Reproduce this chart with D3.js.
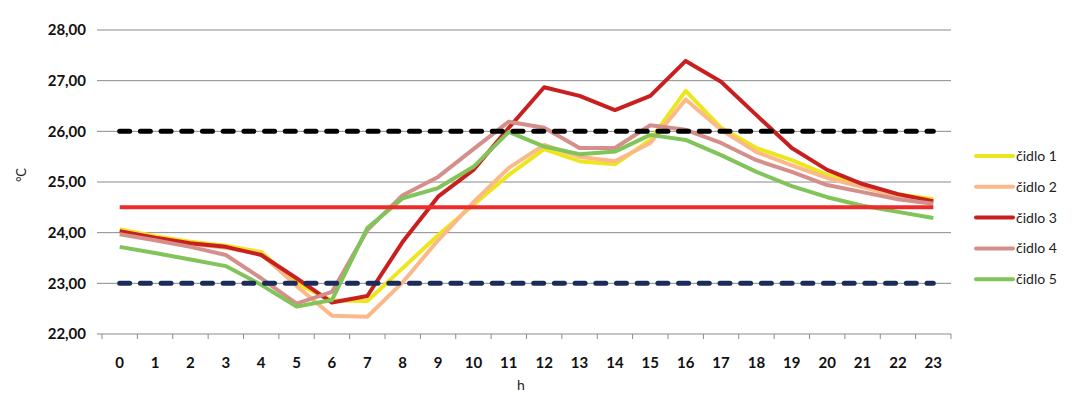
<!DOCTYPE html>
<html>
<head>
<meta charset="utf-8">
<script src="https://cdn.jsdelivr.net/npm/d3@7"></script>
<style>
  body { margin: 0; background: #fff; }
  svg { font-family: Lato, "Open Sans", sans-serif; }
</style>
</head>
<body>
<div class="chart"></div>
<script>
var hours = d3.range(0, 24);
var yTicks = [22, 23, 24, 25, 26, 27, 28];

var cidlo1 = [24.07, 23.93, 23.82, 23.74, 23.62, 23.0, 22.66, 22.65, 23.3, 23.95, 24.55, 25.14, 25.65, 25.41, 25.35, 25.83, 26.8, 26.07, 25.67, 25.43, 25.14, 24.94, 24.76, 24.66];
var cidlo2 = [24.03, 23.9, 23.78, 23.7, 23.58, 22.95, 22.36, 22.34, 23.02, 23.85, 24.6, 25.28, 25.73, 25.5, 25.41, 25.77, 26.63, 26.03, 25.59, 25.33, 25.08, 24.9, 24.72, 24.58];
var cidlo3 = [24.03, 23.9, 23.79, 23.72, 23.56, 23.1, 22.62, 22.75, 23.82, 24.71, 25.24, 26.07, 26.87, 26.7, 26.42, 26.7, 27.39, 26.98, 26.32, 25.67, 25.24, 24.96, 24.76, 24.62];
var cidlo4 = [23.97, 23.85, 23.72, 23.56, 23.1, 22.6, 22.83, 24.05, 24.74, 25.1, 25.65, 26.19, 26.07, 25.67, 25.67, 26.12, 26.03, 25.77, 25.43, 25.2, 24.94, 24.8, 24.66, 24.57];
var cidlo5 = [23.72, 23.6, 23.47, 23.34, 22.97, 22.54, 22.67, 24.09, 24.68, 24.88, 25.3, 25.99, 25.7, 25.55, 25.6, 25.93, 25.83, 25.53, 25.2, 24.92, 24.7, 24.53, 24.41, 24.29];

var seriesNames = ["čidlo 1", "čidlo 2", "čidlo 3", "čidlo 4", "čidlo 5"];
var seriesColors = ["#ede61c", "#fbb98a", "#c8201f", "#d48f8b", "#80c45a"];
var seriesValues = [cidlo1, cidlo2, cidlo3, cidlo4, cidlo5];

// limit lines
var limitValues = [26, 23, 24.5];
var limitColors = ["#000000", "#1c2c5a", "#ee2b2b"];
var limitDashed = [true, true, false];

var width = 1074, height = 395;
var plot = { left: 102, right: 951, top: 30, bottom: 334 };

var svg = d3.select(".chart").append("svg")
    .attr("width", width)
    .attr("height", height);

var x = d3.scaleBand()
    .domain(hours)
    .range([plot.left, plot.right])
    .padding(0);

var y = d3.scaleLinear()
    .domain([22, 28])
    .range([plot.bottom, plot.top]);

var cx = d => x(d) + x.bandwidth() / 2;

// grid lines
svg.append("g")
    .selectAll("line")
    .data(yTicks)
    .join("line")
    .attr("x1", plot.left - 5)
    .attr("x2", plot.right)
    .attr("y1", d => y(d))
    .attr("y2", d => y(d))
    .attr("stroke", "#8a8a8a")
    .attr("stroke-width", 1);

// y labels
svg.append("g")
    .selectAll("text")
    .data(yTicks)
    .join("text")
    .attr("x", 86)
    .attr("y", d => y(d))
    .attr("dy", "0.35em")
    .attr("text-anchor", "end")
    .attr("font-size", 15)
    .attr("font-weight", "bold")
    .attr("fill", "#111")
    .text(d => d3.format(".2f")(d).replace(".", ","));

// x axis ticks
var xAxis = svg.append("g")
    .attr("transform", `translate(0, ${plot.bottom})`)
    .call(d3.axisBottom(x).tickSize(0).tickFormat(d => d).tickPadding(23));
xAxis.select(".domain").remove();
xAxis.selectAll("text")
    .attr("font-family", "Lato, sans-serif")
    .attr("font-size", 15)
    .attr("font-weight", "bold")
    .attr("fill", "#111");

svg.append("g")
    .selectAll("line")
    .data(hours.concat([24]))
    .join("line")
    .attr("x1", d => plot.left + d * x.bandwidth())
    .attr("x2", d => plot.left + d * x.bandwidth())
    .attr("y1", plot.bottom)
    .attr("y2", plot.bottom + 5)
    .attr("stroke", "#8a8a8a");

// axis titles
svg.append("text")
    .attr("transform", "translate(26,175) rotate(-90)")
    .attr("text-anchor", "middle")
    .attr("font-size", 13)
    .attr("fill", "#222")
    .text("°C");

svg.append("text")
    .attr("x", 521)
    .attr("y", 390)
    .attr("text-anchor", "middle")
    .attr("font-size", 14)
    .attr("fill", "#222")
    .text("h");

// series lines
var line = d3.line()
    .x((d, i) => cx(hours[i]))
    .y(d => y(d));

svg.append("g")
    .selectAll("path")
    .data(seriesValues)
    .join("path")
    .attr("d", d => line(d))
    .attr("fill", "none")
    .attr("stroke", (d, i) => seriesColors[i])
    .attr("stroke-width", 4)
    .attr("stroke-linejoin", "round");

// limit lines
svg.append("g")
    .selectAll("line")
    .data(limitValues)
    .join("line")
    .attr("x1", cx(hours[0]))
    .attr("x2", cx(hours[hours.length - 1]))
    .attr("y1", d => y(d))
    .attr("y2", d => y(d))
    .attr("stroke", (d, i) => limitColors[i])
    .attr("stroke-width", (d, i) => limitDashed[i] ? 5 : 4)
    .attr("stroke-linecap", (d, i) => limitDashed[i] ? "round" : "butt")
    .attr("stroke-dasharray", (d, i) => limitDashed[i] ? "10,10.7" : null);

// legend
var legend = svg.append("g")
    .selectAll("g")
    .data(seriesNames)
    .join("g")
    .attr("transform", (d, i) => `translate(976, ${156 + i * 30.8})`);

legend.append("line")
    .attr("x1", 0)
    .attr("x2", 37)
    .attr("stroke", (d, i) => seriesColors[i])
    .attr("stroke-width", 4)
    .attr("stroke-linecap", "round");

legend.append("text")
    .attr("x", 40)
    .attr("dy", "0.35em")
    .attr("font-size", 14)
    .attr("fill", "#222")
    .text(d => d);
</script>
</body>
</html>
